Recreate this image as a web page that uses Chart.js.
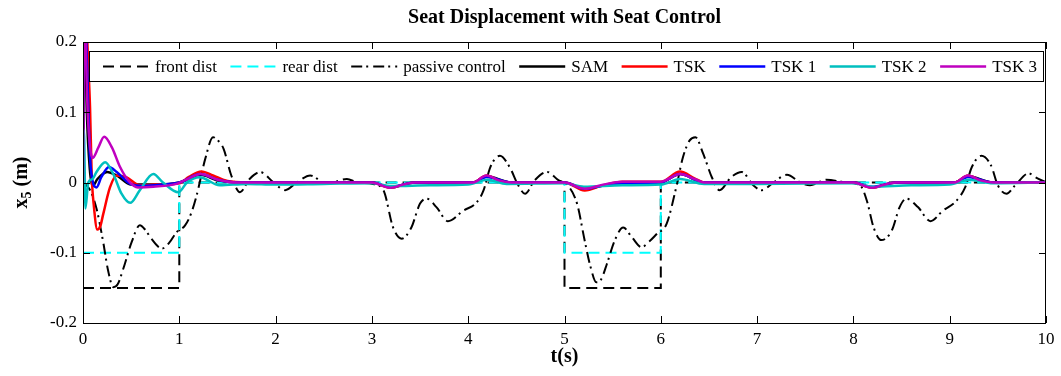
<!DOCTYPE html>
<html>
<head>
<meta charset="utf-8">
<script src="https://cdn.jsdelivr.net/npm/chart.js@4.4.1/dist/chart.umd.min.js"></script>
<style>
  html, body { margin: 0; padding: 0; background: #fff; }
</style>
</head>
<body>
<canvas id="seatChart" width="1061" height="376"></canvas>
<script>
const xTicks = [0, 1, 2, 3, 4, 5, 6, 7, 8, 9, 10];
const yTicks = [-0.2, -0.1, 0, 0.1, 0.2];

const seriesNames = ['front dist', 'rear dist', 'passive control', 'SAM', 'TSK', 'TSK 1', 'TSK 2', 'TSK 3'];

// road disturbances (steps)
const frontT = [0, 1, 1, 5, 5, 6, 6, 10];
const frontY = [-0.15, -0.15, 0, 0, -0.15, -0.15, 0, 0];
const rearT = [0, 1, 1, 5, 5, 6, 6, 10];
const rearY = [-0.1, -0.1, 0, 0, -0.1, -0.1, 0, 0];

// seat displacement without controller
const passiveT = [0, 0.07, 0.14, 0.21, 0.26, 0.315, 0.36, 0.42, 0.505, 0.59, 0.65, 0.71, 0.82, 0.9, 0.97,
  1.06, 1.12, 1.18, 1.27, 1.35, 1.4, 1.46, 1.54, 1.63, 1.73, 1.84, 1.98, 2.1, 2.22, 2.36, 2.53, 2.74, 2.85,
  3.01, 3.12, 3.22, 3.31, 3.41, 3.5, 3.57, 3.67, 3.79, 3.95, 4.09, 4.16, 4.23, 4.33, 4.43, 4.52, 4.59, 4.69,
  4.82, 4.94, 5.02, 5.13, 5.21, 5.27, 5.33, 5.38, 5.44, 5.52, 5.61, 5.7, 5.8, 5.88, 5.96, 6.06, 6.16, 6.23,
  6.3, 6.36, 6.44, 6.53, 6.61, 6.73, 6.84, 6.96, 7.05, 7.17, 7.31, 7.45, 7.55, 7.72, 7.93, 8.07, 8.14, 8.21,
  8.29, 8.4, 8.48, 8.55, 8.67, 8.8, 8.93, 9.07, 9.16, 9.23, 9.33, 9.43, 9.5, 9.59, 9.68, 9.82, 9.89, 10];
const passiveY = [0, -0.01, -0.037, -0.085, -0.125, -0.149, -0.145, -0.122, -0.085, -0.061, -0.068, -0.08, -0.094, -0.085, -0.071,
  -0.061, -0.045, -0.0185, 0.034, 0.0645, 0.06, 0.048, 0.01, -0.0138, 0.005, 0.0147, 0, -0.011, 0, 0.01, -0.002, 0.005, 0,
  -0.002, -0.011, -0.064, -0.08, -0.064, -0.03, -0.023, -0.035, -0.055, -0.04, -0.028, -0.011, 0.022, 0.038, 0.022, -0.004, -0.016, 0.003,
  0.015, 0.003, -0.002, -0.03, -0.083, -0.12, -0.142, -0.138, -0.116, -0.083, -0.064, -0.078, -0.092, -0.084, -0.073, -0.059, -0.007, 0.036,
  0.06, 0.0645, 0.041, 0.0075, -0.011, 0.0075, 0.015, -0.004, -0.011, 0, 0.011, 0, -0.004, 0.004, 0, -0.004, -0.026, -0.064,
  -0.082, -0.068, -0.035, -0.023, -0.035, -0.055, -0.04, -0.026, -0.007, 0.022, 0.038, 0.024, -0.004, -0.016, -0.004, 0.013, 0.0075, 0];

// controlled responses
const samT = [0, 0.015, 0.04, 0.07, 0.1, 0.15, 0.25, 0.35, 0.5, 0.8, 1.0, 1.22, 1.4, 1.6, 3.0, 3.19, 3.45, 4.05, 4.19, 4.45,
  5.0, 5.21, 5.5, 6.0, 6.2, 6.45, 8.0, 8.19, 8.45, 9.05, 9.19, 9.45, 10];
const samY = [0, 0.25, 0.1, 0.02, -0.005, 0.005, 0.015, 0.01, -0.003, -0.003, 0, 0.011, 0.003, 0, 0, -0.007, 0, 0, 0.009, 0,
  0, -0.009, -0.002, 0, 0.012, 0, 0, -0.007, 0, 0, 0.009, 0, 0];

const tskT = [0, 0.02, 0.045, 0.073, 0.09, 0.114, 0.149, 0.18, 0.21, 0.28, 0.35, 0.45, 0.59, 0.75, 1.0, 1.1, 1.23, 1.35, 1.5, 1.7,
  3.0, 3.19, 3.35, 3.45, 4.05, 4.19, 4.32, 4.45, 5.0, 5.21, 5.4, 5.6, 6.0, 6.2, 6.35, 6.45,
  8.0, 8.19, 8.35, 8.45, 9.05, 9.19, 9.32, 9.45, 10];
const tskY = [0, 0.32, 0.2, 0.107, 0.012, -0.035, -0.067, -0.062, -0.045, -0.007, 0.01, 0.0075, -0.004, -0.003, -0.001, 0.008, 0.0157, 0.01, 0.002, 0,
  0, -0.0075, -0.002, 0, 0, 0.01, 0.003, 0, 0, -0.0115, -0.004, 0.001, 0.001, 0.0157, 0.006, 0,
  0, -0.0075, -0.002, 0, 0, 0.01, 0.003, 0, 0];

const tsk1T = [0, 0.015, 0.035, 0.055, 0.073, 0.107, 0.14, 0.19, 0.27, 0.35, 0.49, 0.63, 0.83, 1.0, 1.22, 1.4, 1.6,
  3.0, 3.19, 3.45, 4.05, 4.19, 4.45, 5.0, 5.21, 5.5, 6.0, 6.2, 6.45, 8.0, 8.19, 8.45, 9.05, 9.19, 9.45, 10];
const tsk1Y = [0, 0.3, 0.2, 0.107, 0.036, -0.002, -0.007, 0.0075, 0.022, 0.015, -0.002, -0.005, -0.003, 0, 0.012, 0.004, 0,
  0, -0.006, 0, 0, 0.008, 0, 0, -0.009, -0.002, 0, 0.012, 0, 0, -0.006, 0, 0, 0.008, 0, 0];

const tsk2T = [0, 0.01, 0.025, 0.055, 0.1, 0.14, 0.23, 0.315, 0.4, 0.49, 0.59, 0.73, 0.83, 0.99, 1.08, 1.21, 1.42, 1.7, 2.0, 2.5,
  3.0, 3.2, 3.6, 4.0, 4.2, 4.4, 5.0, 5.2, 5.6, 6.0, 6.2, 6.45, 7.0, 8.0, 8.2, 8.6, 9.0, 9.2, 9.45, 10];
const tsk2Y = [0, 0.075, -0.037, 0, 0.005, 0.015, 0.029, 0.012, -0.016, -0.029, -0.011, 0.012, 0, -0.014, 0, 0.0075, -0.004, -0.002, -0.003, -0.002,
  -0.001, -0.005, -0.004, -0.003, 0.004, -0.002, -0.001, -0.006, -0.004, -0.003, 0.005, -0.002, -0.002, -0.001, -0.006, -0.004, -0.003, 0.004, -0.001, 0];

const tsk3T = [0, 0.015, 0.035, 0.055, 0.1, 0.16, 0.22, 0.3, 0.385, 0.47, 0.57, 0.73, 0.97, 1.1, 1.22, 1.4, 1.6,
  3.0, 3.19, 3.35, 3.45, 4.05, 4.19, 4.32, 4.45, 5.0, 5.21, 5.4, 5.6, 6.0, 6.2, 6.35, 6.45,
  8.0, 8.19, 8.35, 8.45, 9.05, 9.19, 9.32, 9.45, 10];
const tsk3Y = [0, 0.3, 0.16, 0.083, 0.035, 0.05, 0.065, 0.05, 0.022, 0.003, -0.007, -0.006, -0.002, 0.006, 0.012, 0.004, 0,
  0, -0.0075, -0.002, 0, 0, 0.01, 0.003, 0, 0, -0.009, -0.003, 0.001, 0.001, 0.012, 0.005, 0,
  0, -0.0075, -0.002, 0, 0, 0.01, 0.003, 0, 0];

function points(ts, ys) {
    return ts.map((t, i) => ({x: t, y: ys[i]}));
}

const serif = '"Liberation Serif", "Times New Roman", serif';

function makeSet(i, ts, ys, color, width, dash, smooth) {
    return {
        label: seriesNames[i],
        data: points(ts, ys),
        borderColor: color,
        borderWidth: width,
        borderDash: dash,
        pointRadius: 0,
        tension: 0,
        cubicInterpolationMode: smooth ? 'monotone' : 'default',
        order: seriesNames.length - i
    };
}

// MATLAB-style box with inward ticks on all four sides
const axesBox = {
    id: 'axesBox',
    afterDatasetsDraw(chart) {
        let ctx = chart.ctx;
        let a = chart.chartArea;
        let xs = chart.scales.x, ys = chart.scales.y;
        let len = 7;
        ctx.save();
        ctx.strokeStyle = '#000';
        ctx.lineWidth = 1;
        ctx.beginPath();
        xs.ticks.forEach(t => {
            let px = Math.round(xs.getPixelForValue(t.value)) + 0.5;
            ctx.moveTo(px, a.bottom); ctx.lineTo(px, a.bottom - len);
            ctx.moveTo(px, a.top); ctx.lineTo(px, a.top + len);
        });
        ys.ticks.forEach(t => {
            let py = Math.round(ys.getPixelForValue(t.value)) + 0.5;
            ctx.moveTo(a.left, py); ctx.lineTo(a.left + len, py);
            ctx.moveTo(a.right, py); ctx.lineTo(a.right - len, py);
        });
        ctx.stroke();
        ctx.strokeRect(Math.round(a.left) + 0.5, Math.round(a.top) + 0.5,
            Math.round(a.right - a.left) - 1, Math.round(a.bottom - a.top));
        ctx.restore();
    }
};

// y label with subscript
const yLabel = {
    id: 'yLabel',
    afterDraw(chart) {
        let ctx = chart.ctx;
        let a = chart.chartArea;
        ctx.save();
        ctx.translate(22, (a.top + a.bottom) / 2);
        ctx.rotate(-Math.PI / 2);
        ctx.fillStyle = '#000';
        ctx.textBaseline = 'middle';
        let big = 'bold 20px ' + serif;
        let small = 'bold 14px ' + serif;
        ctx.font = big;
        let w1 = ctx.measureText('x').width;
        let w3 = ctx.measureText(' (m)').width;
        ctx.font = small;
        let w2 = ctx.measureText('5').width;
        let x = -(w1 + w2 + w3) / 2;
        ctx.font = big;
        ctx.fillText('x', x, 0);
        ctx.font = small;
        ctx.fillText('5', x + w1, 5);
        ctx.font = big;
        ctx.fillText(' (m)', x + w1 + w2, 0);
        ctx.restore();
    }
};

// legend drawn inside the axes, one row
const insideLegend = {
    id: 'insideLegend',
    afterDraw(chart) {
        let ctx = chart.ctx;
        let a = chart.chartArea;
        let l = a.left + 6, t = a.top + 9, r = a.right - 3, b = a.top + 39;
        ctx.save();
        ctx.fillStyle = '#fff';
        ctx.fillRect(l, t, r - l, b - t);
        ctx.strokeStyle = '#000';
        ctx.lineWidth = 1;
        ctx.strokeRect(Math.round(l) + 0.5, Math.round(t) + 0.5, Math.round(r - l), Math.round(b - t));
        ctx.font = '17px ' + serif;
        let sets = chart.data.datasets;
        let lineLen = 46, gap = 6;
        let widths = sets.map(d => lineLen + gap + ctx.measureText(d.label).width);
        let total = widths.reduce((s, w) => s + w, 0);
        let start = l + 14, end = r - 6;
        let space = (end - start - total) / (sets.length - 1);
        let x = start, cy = Math.round((t + b) / 2) + 0.5;
        sets.forEach((d, i) => {
            ctx.beginPath();
            ctx.setLineDash(d.borderDash || []);
            ctx.strokeStyle = d.borderColor;
            ctx.lineWidth = d.borderWidth;
            ctx.moveTo(x, cy);
            ctx.lineTo(x + lineLen, cy);
            ctx.stroke();
            ctx.setLineDash([]);
            ctx.fillStyle = '#000';
            ctx.textBaseline = 'middle';
            ctx.fillText(d.label, x + lineLen + gap, cy + 1);
            x += widths[i] + space;
        });
        ctx.restore();
    }
};

let ctx = document.getElementById('seatChart');

let seatChart = new Chart(ctx, {
    type: 'line',
    data: {
        datasets: [
            makeSet(0, frontT, frontY, '#000000', 2, [11, 6], false),
            makeSet(1, rearT, rearY, '#00ffff', 2, [11, 6], false),
            makeSet(2, passiveT, passiveY, '#000000', 2, [11, 4, 2, 5], true),
            makeSet(3, samT, samY, '#000000', 2.5, [], true),
            makeSet(4, tskT, tskY, '#ff0000', 2.5, [], true),
            makeSet(5, tsk1T, tsk1Y, '#0000ff', 2.5, [], true),
            makeSet(6, tsk2T, tsk2Y, '#00bfbf', 2.5, [], true),
            makeSet(7, tsk3T, tsk3Y, '#bf00bf', 2.5, [], true)
        ]
    },
    options: {
        responsive: false,
        animation: false,
        layout: {
            padding: {left: 0, right: 15, top: 0, bottom: 0}
        },
        plugins: {
            legend: { display: false },
            tooltip: { enabled: false },
            title: {
                display: true,
                fullSize: false,
                text: 'Seat Displacement with Seat Control',
                color: '#000',
                font: { family: serif, size: 20, weight: 'bold' },
                padding: { top: 6, bottom: 12 }
            }
        },
        scales: {
            x: {
                type: 'linear',
                min: 0,
                max: 10,
                afterBuildTicks: s => { s.ticks = xTicks.map(v => ({value: v})); },
                afterFit: s => { s.height = 53; },
                grid: { display: false, drawTicks: false },
                border: { display: false },
                ticks: {
                    color: '#000',
                    padding: 6,
                    maxRotation: 0,
                    font: { family: serif, size: 17 }
                },
                title: {
                    display: true,
                    text: 't(s)',
                    color: '#000',
                    font: { family: serif, size: 20, weight: 'bold' },
                    padding: { top: 0, bottom: 7 }
                }
            },
            y: {
                min: -0.2,
                max: 0.2,
                afterBuildTicks: s => { s.ticks = yTicks.map(v => ({value: v})); },
                afterFit: s => { s.width = 83; },
                grid: { display: false, drawTicks: false },
                border: { display: false },
                ticks: {
                    color: '#000',
                    padding: 6,
                    font: { family: serif, size: 17 },
                    callback: v => v === 0 ? '0' : String(+v.toFixed(1))
                }
            }
        }
    },
    plugins: [axesBox, yLabel, insideLegend]
});
</script>
</body>
</html>
